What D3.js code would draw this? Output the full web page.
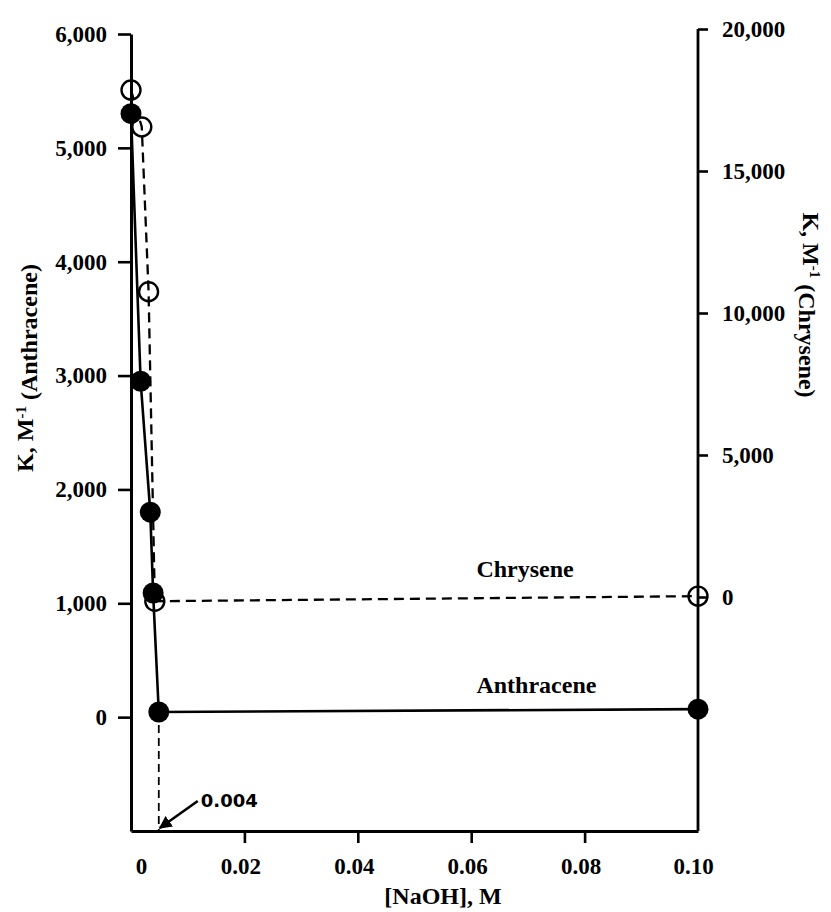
<!DOCTYPE html>
<html>
<head>
<meta charset="utf-8">
<script src="https://cdn.jsdelivr.net/npm/d3@7"></script>
<style>
  html, body { margin: 0; padding: 0; background: #fff; }
  svg { display: block; }
  .tick text, .lbl { font-family: "Liberation Serif", "Times New Roman", serif; font-weight: bold; fill: #000; }
</style>
</head>
<body>
<svg id="chart" width="831" height="912"></svg>
<script>
// ---- data ----
const xTickValues = [0, 0.02, 0.04, 0.06, 0.08, 0.10];
const xTickLabels = ["0", "0.02", "0.04", "0.06", "0.08", "0.10"];
const leftTickValues = [0, 1000, 2000, 3000, 4000, 5000, 6000];
const leftTickLabels = ["0", "1,000", "2,000", "3,000", "4,000", "5,000", "6,000"];
const rightTickValues = [0, 5000, 10000, 15000, 20000];
const rightTickLabels = ["0", "5,000", "10,000", "15,000", "20,000"];

const naohAnthracene = [0, 0.0017, 0.0034, 0.0039, 0.0049, 0.10];
const kAnthracene    = [5300, 2950, 1800, 1090, 45, 70];
const naohChrysene   = [0, 0.0019, 0.0031, 0.0042, 0.10];
const kChrysene      = [17850, 16550, 10750, -150, 30];

const seriesLabels = ["Chrysene", "Anthracene"];
const markerX = 0.0049;           // dashed drop line for anthracene minimum
const markerLabel = "0.004";

// ---- layout ----
const svg = d3.select("#chart");
const x = d3.scaleLinear().domain([0, 0.10]).range([131, 698]);
const yL = d3.scaleLinear().domain([-1000, 6000]).range([831, 34]);
const yR = d3.scaleLinear().domain([0, 20000]).range([597, 29]);

const serif = '"Liberation Serif", "Times New Roman", serif';

// bottom axis
const gx = svg.append("g").attr("transform", `translate(0,${yL(-1000)})`)
  .call(d3.axisBottom(x).tickValues(xTickValues)
    .tickFormat((d, i) => xTickLabels[i]).tickSize(12).tickPadding(15).tickSizeOuter(0));
gx.selectAll(".tick line").filter(d => d === 0 || d === 0.10).remove();
gx.selectAll(".tick text").attr("dx", d => d === 0 ? 10 : (d === 0.10 ? -5 : -4));

// left axis
const gl = svg.append("g").attr("transform", `translate(${x(0)},0)`)
  .call(d3.axisLeft(yL).tickValues(leftTickValues)
    .tickFormat((d, i) => leftTickLabels[i]).tickSize(13).tickPadding(11).tickSizeOuter(0));

// right axis
const gr = svg.append("g").attr("transform", `translate(${x(0.10)},0)`)
  .call(d3.axisRight(yR).tickValues(rightTickValues)
    .tickFormat((d, i) => rightTickLabels[i]).tickSize(10).tickPadding(14).tickSizeOuter(0));
gr.select(".domain").remove();
svg.append("line")
  .attr("x1", x(0.10)).attr("x2", x(0.10))
  .attr("y1", yR(20000)).attr("y2", yL(-1000))
  .attr("stroke", "#000").attr("stroke-width", 2.8);

[gx, gl, gr].forEach(g => {
  g.selectAll(".domain").attr("stroke", "#000").attr("stroke-width", 3);
  g.selectAll(".tick line").attr("stroke", "#000").attr("stroke-width", 2.6);
  g.selectAll(".tick text").style("font-size", "23px").attr("font-family", serif).attr("font-weight", "bold");
});

// dashed drop line
svg.append("line")
  .attr("x1", x(markerX)).attr("x2", x(markerX))
  .attr("y1", yL(kAnthracene[4])).attr("y2", yL(-1000))
  .attr("stroke", "#000").attr("stroke-width", 1.8).attr("stroke-dasharray", "8,5");

// chrysene dashed line
const chrys = naohChrysene.map((v, i) => [v, kChrysene[i]]);
svg.append("path")
  .attr("d", d3.line().x(d => x(d[0])).y(d => yR(d[1]))(chrys))
  .attr("fill", "none").attr("stroke", "#000").attr("stroke-width", 2.3)
  .attr("stroke-dasharray", "10,6");

// anthracene solid line
const anth = naohAnthracene.map((v, i) => [v, kAnthracene[i]]);
svg.append("path")
  .attr("d", d3.line().x(d => x(d[0])).y(d => yL(d[1]))(anth))
  .attr("fill", "none").attr("stroke", "#000").attr("stroke-width", 2.6);

// chrysene open circles
svg.selectAll("circle.ch").data(chrys).join("circle")
  .attr("class", "ch")
  .attr("cx", d => x(d[0])).attr("cy", d => yR(d[1])).attr("r", 9.5)
  .attr("fill", "none").attr("stroke", "#000").attr("stroke-width", 2.4);

// anthracene filled circles
svg.selectAll("circle.an").data(anth).join("circle")
  .attr("class", "an")
  .attr("cx", d => x(d[0])).attr("cy", d => yL(d[1])).attr("r", 10.5)
  .attr("fill", "#000");

// series labels
svg.append("text").attr("class", "lbl")
  .attr("x", x(0.0695)).attr("y", yR(0) - 20)
  .attr("text-anchor", "middle").style("font-size", "24px")
  .text(seriesLabels[0]);
svg.append("text").attr("class", "lbl")
  .attr("x", x(0.0715)).attr("y", yL(0) - 24)
  .attr("text-anchor", "middle").style("font-size", "24px")
  .text(seriesLabels[1]);

// annotation arrow
svg.append("defs").append("marker")
  .attr("id", "arr").attr("viewBox", "0 0 10 10").attr("refX", 9).attr("refY", 5)
  .attr("markerWidth", 5).attr("markerHeight", 5).attr("orient", "auto")
  .append("path").attr("d", "M0,0 L10,5 L0,10 z").attr("fill", "#000");
const tipX = x(markerX) + 1, tipY = yL(-1000) - 3;
svg.append("line")
  .attr("x1", tipX + 38).attr("y1", tipY - 27)
  .attr("x2", tipX).attr("y2", tipY)
  .attr("stroke", "#000").attr("stroke-width", 2.6)
  .attr("marker-end", "url(#arr)");
svg.append("text")
  .attr("x", tipX + 41).attr("y", tipY - 21)
  .attr("font-family", '"DejaVu Sans", sans-serif').attr("font-weight", "bold")
  .style("font-size", "18px").attr("fill", "#000")
  .text(markerLabel);

// axis titles
const lt = svg.append("text").attr("class", "lbl")
  .attr("transform", `translate(33,368) rotate(-90)`)
  .attr("text-anchor", "middle").style("font-size", "24px");
lt.append("tspan").text("K, M");
lt.append("tspan").attr("dy", "-0.45em").style("font-size", "15px").text("-1");
lt.append("tspan").attr("dy", "0.45em").text(" (Anthracene)");

const rt = svg.append("text").attr("class", "lbl")
  .attr("transform", `translate(803,305) rotate(90)`)
  .attr("text-anchor", "middle").style("font-size", "24px");
rt.append("tspan").text("K, M");
rt.append("tspan").attr("dy", "-0.45em").style("font-size", "15px").text("-1");
rt.append("tspan").attr("dy", "0.45em").text(" (Chrysene)");

svg.append("text").attr("class", "lbl")
  .attr("x", 443).attr("y", 904).attr("text-anchor", "middle")
  .style("font-size", "24px").text("[NaOH], M");
</script>
</body>
</html>
